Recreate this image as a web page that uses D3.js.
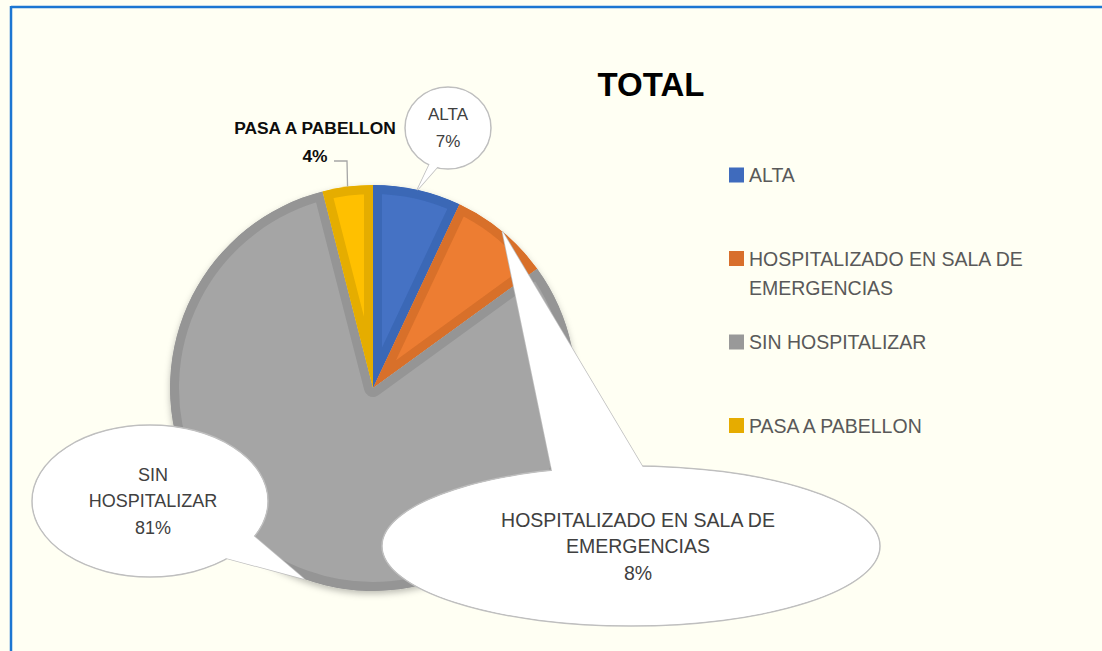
<!DOCTYPE html>
<html>
<head>
<meta charset="utf-8">
<script src="https://cdn.jsdelivr.net/npm/d3@7"></script>
<style>
  html, body { margin: 0; background: #fffff3; overflow: hidden; }
  svg { display: block; font-family: "Liberation Sans", Arial, sans-serif; }
</style>
</head>
<body>
<div id="chart"></div>
<script>
// data
const categories = ["ALTA", "HOSPITALIZADO EN SALA DE EMERGENCIAS", "SIN HOSPITALIZAR", "PASA A PABELLON"];
const values = [7, 8, 81, 4];
const legendLines = [["ALTA"], ["HOSPITALIZADO EN SALA DE", "EMERGENCIAS"], ["SIN HOSPITALIZAR"], ["PASA A PABELLON"]];
const labelLines = [["ALTA"], ["HOSPITALIZADO EN SALA DE", "EMERGENCIAS"], ["SIN", "HOSPITALIZAR"], ["PASA A PABELLON"]];
const fillColors = ["#4472c4", "#ed7d31", "#a5a5a5", "#ffc000"];
const edgeColors = ["#3b67b6", "#d8702c", "#959595", "#e5ad00"];
const legendColors = ["#3f6bbd", "#d86f2c", "#999999", "#e6ac00"];

const width = 1102, height = 651;
const cx = 373, cy = 388, radius = 203;

const svg = d3.select("#chart").append("svg")
  .attr("width", width)
  .attr("height", height);

svg.append("rect")
  .attr("width", width).attr("height", height)
  .attr("fill", "#fffff3");

// frame: only the top and left edges fall inside the picture
svg.append("line")
  .attr("x1", 11).attr("y1", 7).attr("x2", 1300).attr("y2", 7)
  .attr("stroke", "#1c76d2").attr("stroke-width", 2.5);
svg.append("line")
  .attr("x1", 11).attr("y1", 6).attr("x2", 11).attr("y2", 900)
  .attr("stroke", "#1c76d2").attr("stroke-width", 2.5);

svg.append("text")
  .attr("x", 651).attr("y", 84)
  .attr("text-anchor", "middle")
  .attr("dominant-baseline", "central")
  .attr("font-size", 33)
  .attr("font-weight", "bold")
  .attr("fill", "#000")
  .text("TOTAL");

const total = d3.sum(values);
const pct = d3.format(".0%");

const pie = d3.pie().sort(null).value(d => d)(values);
const arc = d3.arc().innerRadius(0).outerRadius(radius);
const rimArc = d3.arc().innerRadius(radius).outerRadius(radius);

const defs = svg.append("defs");
const shadow = defs.append("filter").attr("id", "shadow")
  .attr("x", "-20%").attr("y", "-20%").attr("width", "140%").attr("height", "140%");
shadow.append("feDropShadow")
  .attr("dx", 0).attr("dy", 3).attr("stdDeviation", 3)
  .attr("flood-color", "#000").attr("flood-opacity", 0.25);

pie.forEach((d, i) => {
  defs.append("clipPath").attr("id", "clip" + i)
    .append("path").attr("d", arc(d));
});

const pieG = svg.append("g")
  .attr("transform", `translate(${cx},${cy})`)
  .attr("filter", "url(#shadow)");

pieG.selectAll("path.slice")
  .data(pie)
  .join("path")
    .attr("class", "slice")
    .attr("d", arc)
    .attr("fill", (d, i) => fillColors[i])
    .attr("stroke", (d, i) => edgeColors[i])
    .attr("stroke-width", 18)
    .attr("stroke-linejoin", "round")
    .attr("clip-path", (d, i) => `url(#clip${i})`);

// callouts
const bubbles = [
  { cx: 448, cy: 128, rx: 43, ry: 41, a0: 104, a1: 116, tx: 448, fs: 17 },
  { cx: 631, cy: 546, rx: 249, ry: 80, a0: -109, a1: -87, tx: 638, fs: 19.5 },
  { cx: 150, cy: 501, rx: 118, ry: 76, a0: 27, a1: 50, tx: 153, fs: 18 }
];
const bubbleIdx = [0, 1, 2];
const lineH = 26.5;

function ellPt(b, a, k) {
  const t = a * Math.PI / 180;
  return [b.cx + k * b.rx * Math.cos(t), b.cy + k * b.ry * Math.sin(t)];
}

const calloutG = svg.append("g");
bubbleIdx.forEach((i, j) => {
  const b = bubbles[j];
  const tip = rimArc.centroid(pie[i]);
  const tipPt = [cx + tip[0], cy + tip[1]];
  const p0 = ellPt(b, b.a0, 0.97), p1 = ellPt(b, b.a1, 0.97);
  const tail = d3.line()([p0, tipPt, p1]) + "Z";
  const g = calloutG.append("g");
  g.append("path").attr("d", tail)
    .attr("fill", "#fff").attr("stroke", "#bfbfbf").attr("stroke-width", 1.5);
  g.append("ellipse")
    .attr("cx", b.cx).attr("cy", b.cy).attr("rx", b.rx).attr("ry", b.ry)
    .attr("fill", "#fff").attr("stroke", "#bfbfbf").attr("stroke-width", 1.5);
  g.append("path").attr("d", tail).attr("fill", "#fff").attr("stroke", "none");
  g.append("ellipse")
    .attr("cx", b.cx).attr("cy", b.cy).attr("rx", b.rx - 1).attr("ry", b.ry - 1)
    .attr("fill", "#fff");

  const lines = labelLines[i].concat([pct(values[i] / total)]);
  g.selectAll("text")
    .data(lines)
    .join("text")
      .attr("x", b.tx)
      .attr("y", (t, k) => b.cy + (k - (lines.length - 1) / 2) * lineH)
      .attr("text-anchor", "middle")
      .attr("dominant-baseline", "central")
      .attr("font-size", b.fs)
      .attr("fill", "#404040")
      .text(t => t);
});

// plain label with leader for PASA A PABELLON
{
  const i = 3;
  const tip = rimArc.centroid(pie[i]);
  const tipPt = [cx + tip[0], cy + tip[1]];
  svg.append("path")
    .attr("d", d3.line()([[334, 161], [347, 161], tipPt]))
    .attr("fill", "none")
    .attr("stroke", "#a6a6a6")
    .attr("stroke-width", 1.3);
  const lines = labelLines[i].concat([pct(values[i] / total)]);
  svg.append("g").selectAll("text")
    .data(lines)
    .join("text")
      .attr("x", 315)
      .attr("y", (t, k) => 128 + k * 28)
      .attr("text-anchor", "middle")
      .attr("dominant-baseline", "central")
      .attr("font-size", 17.4)
      .attr("font-weight", "bold")
      .attr("fill", "#0d0d0d")
      .text(t => t);
}

// legend
const legend = svg.append("g");
const item = legend.selectAll("g")
  .data(categories)
  .join("g")
    .attr("transform", (d, i) => `translate(729,${175 + i * 83.5})`);

item.append("rect")
  .attr("x", 0).attr("y", -7.5)
  .attr("width", 15).attr("height", 15)
  .attr("fill", (d, i) => legendColors[i]);

item.each(function(d, i) {
  d3.select(this).selectAll("text")
    .data(legendLines[i])
    .join("text")
      .attr("x", 20)
      .attr("y", (t, k) => k * 29)
      .attr("dominant-baseline", "central")
      .attr("font-size", 19.5)
      .attr("fill", "#595959")
      .text(t => t);
});
</script>
</body>
</html>
